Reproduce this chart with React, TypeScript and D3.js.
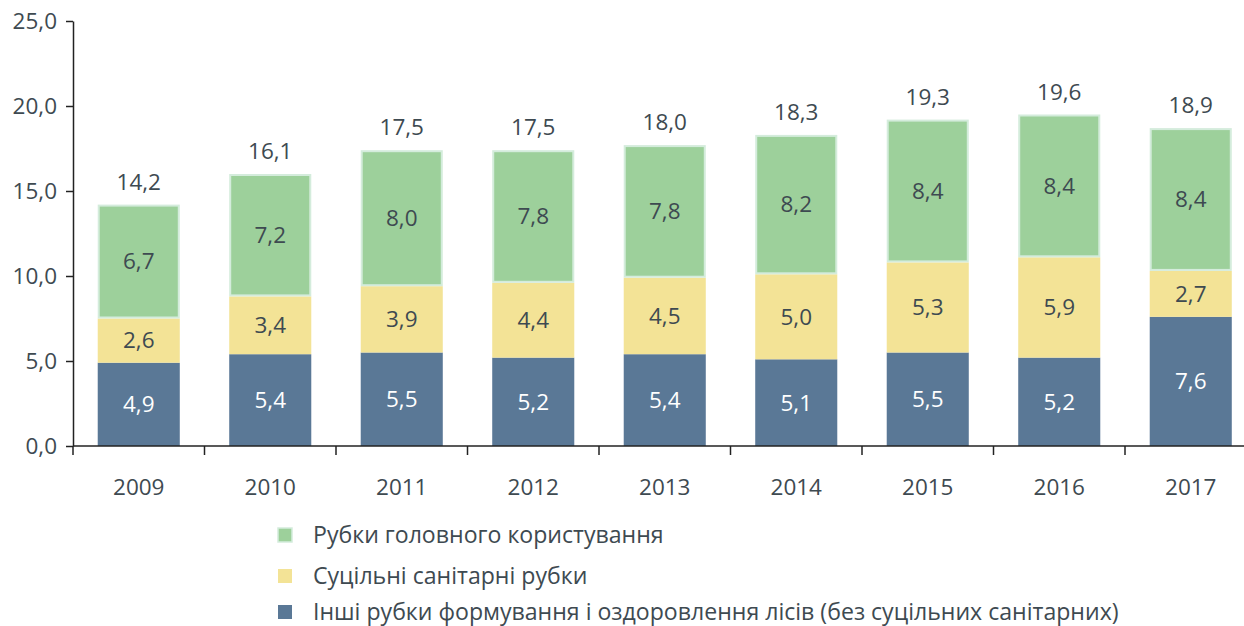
import React, { useEffect, useRef } from 'react';
import * as d3 from 'd3';

const years = ['2009', '2010', '2011', '2012', '2013', '2014', '2015', '2016', '2017'];
const other = [4.9, 5.4, 5.5, 5.2, 5.4, 5.1, 5.5, 5.2, 7.6];
const sanitary = [2.6, 3.4, 3.9, 4.4, 4.5, 5.0, 5.3, 5.9, 2.7];
const mainUse = [6.7, 7.2, 8.0, 7.8, 7.8, 8.2, 8.4, 8.4, 8.4];
const totals = [14.2, 16.1, 17.5, 17.5, 18.0, 18.3, 19.3, 19.6, 18.9];
const yTicks = [0, 5, 10, 15, 20, 25];

const seriesNames = [
  'Рубки головного користування',
  'Суцільні санітарні рубки',
  'Інші рубки формування і оздоровлення лісів (без суцільних санітарних)',
];

const fmt = (v: number) => v.toFixed(1).replace('.', ',');

const App = () => {
  const ref = useRef<SVGSVGElement>(null);

  useEffect(() => {
    const svg = d3.select(ref.current);
    svg.selectAll('*').remove();

    const textColor = '#3e4a51';
    const font = '"Open Sans", sans-serif';
    const fs = 22.5;
    const left = 73;
    const bottom = 446;

    const x = d3.scaleBand()
      .domain(years)
      .range([left, left + 9 * 131.5])
      .paddingInner(0.376)
      .paddingOuter(0.188);

    const y = d3.scaleLinear().domain([0, 25]).range([bottom, 21]);

    const g = svg.append('g');

    // stacked layers, bottom up
    const layers = [
      { values: other, fill: '#5a7896', stroke: 'none', label: '#ffffff' },
      { values: sanitary, fill: '#f3e396', stroke: 'none', label: textColor },
      { values: mainUse, fill: '#9dd09b', stroke: '#d4ecdc', label: textColor },
    ];

    const base = years.map(() => 0);
    layers.forEach(layer => {
      years.forEach((yr, i) => {
        const y0 = base[i];
        const y1 = y0 + layer.values[i];
        const inset = layer.stroke === 'none' ? 0 : 1;
        g.append('rect')
          .attr('x', x(yr)! + inset)
          .attr('y', y(y1) + inset)
          .attr('width', x.bandwidth() - inset * 2)
          .attr('height', y(y0) - y(y1) - inset * 2)
          .attr('fill', layer.fill)
          .attr('stroke', layer.stroke)
          .attr('stroke-width', 2);
        g.append('text')
          .attr('x', x(yr)! + x.bandwidth() / 2)
          .attr('y', (y(y0) + y(y1)) / 2)
          .attr('dy', '0.35em')
          .attr('text-anchor', 'middle')
          .attr('font-family', font)
          .attr('font-size', fs)
          .attr('fill', layer.label)
          .text(fmt(layer.values[i]));
        base[i] = y1;
      });
    });

    // totals above bars
    years.forEach((yr, i) => {
      g.append('text')
        .attr('x', x(yr)! + x.bandwidth() / 2)
        .attr('y', y(base[i]) - 15)
        .attr('text-anchor', 'middle')
        .attr('font-family', font)
        .attr('font-size', fs)
        .attr('fill', textColor)
        .text(fmt(totals[i]));
    });

    // y axis
    const yAxis = g.append('g')
      .attr('transform', `translate(${left},0)`)
      .call(d3.axisLeft(y).tickValues(yTicks).tickSize(7).tickSizeOuter(0).tickFormat(d => fmt(+d)));
    yAxis.select('.domain').attr('stroke', '#222').attr('stroke-width', 1.5);
    yAxis.selectAll('.tick line').attr('stroke', '#222').attr('stroke-width', 1.5);
    yAxis.selectAll('.tick text')
      .attr('x', -16)
      .attr('font-family', font)
      .attr('font-size', fs)
      .attr('fill', textColor);

    // x axis with boundary ticks between categories
    const xg = g.append('g').attr('transform', `translate(0,${bottom})`);
    xg.append('line')
      .attr('x1', left).attr('x2', 1244)
      .attr('stroke', '#222').attr('stroke-width', 1.5);
    years.forEach((yr, i) => {
      const bx = left + i * 131.5;
      xg.append('line')
        .attr('x1', bx).attr('x2', bx)
        .attr('y1', 0).attr('y2', 9)
        .attr('stroke', '#222').attr('stroke-width', 1.5);
      xg.append('text')
        .attr('x', x(yr)! + x.bandwidth() / 2)
        .attr('y', 41)
        .attr('dy', '0.35em')
        .attr('text-anchor', 'middle')
        .attr('font-family', font)
        .attr('font-size', fs)
        .attr('fill', textColor)
        .text(yr);
    });

    // legend
    const legendColors = ['#9dd09b', '#f3e396', '#5a7896'];
    const legendY = [535, 576, 612];
    seriesNames.forEach((name, i) => {
      const lg = svg.append('g').attr('transform', `translate(278,${legendY[i]})`);
      lg.append('rect')
        .attr('x', 0).attr('y', -7).attr('width', 14).attr('height', 14)
        .attr('fill', legendColors[i])
        .attr('stroke', i === 0 ? '#d4ecdc' : 'none')
        .attr('stroke-width', 1.5);
      lg.append('text')
        .attr('x', 35)
        .attr('dy', '0.35em')
        .attr('font-family', font)
        .attr('font-size', 23.1)
        .attr('fill', textColor)
        .text(name);
    });
  }, []);

  return (
    <svg
      ref={ref}
      width={1244}
      height={626}
      style={{ position: 'absolute', left: 0, top: 0, background: '#fff' }}
    />
  );
};

export default App;
